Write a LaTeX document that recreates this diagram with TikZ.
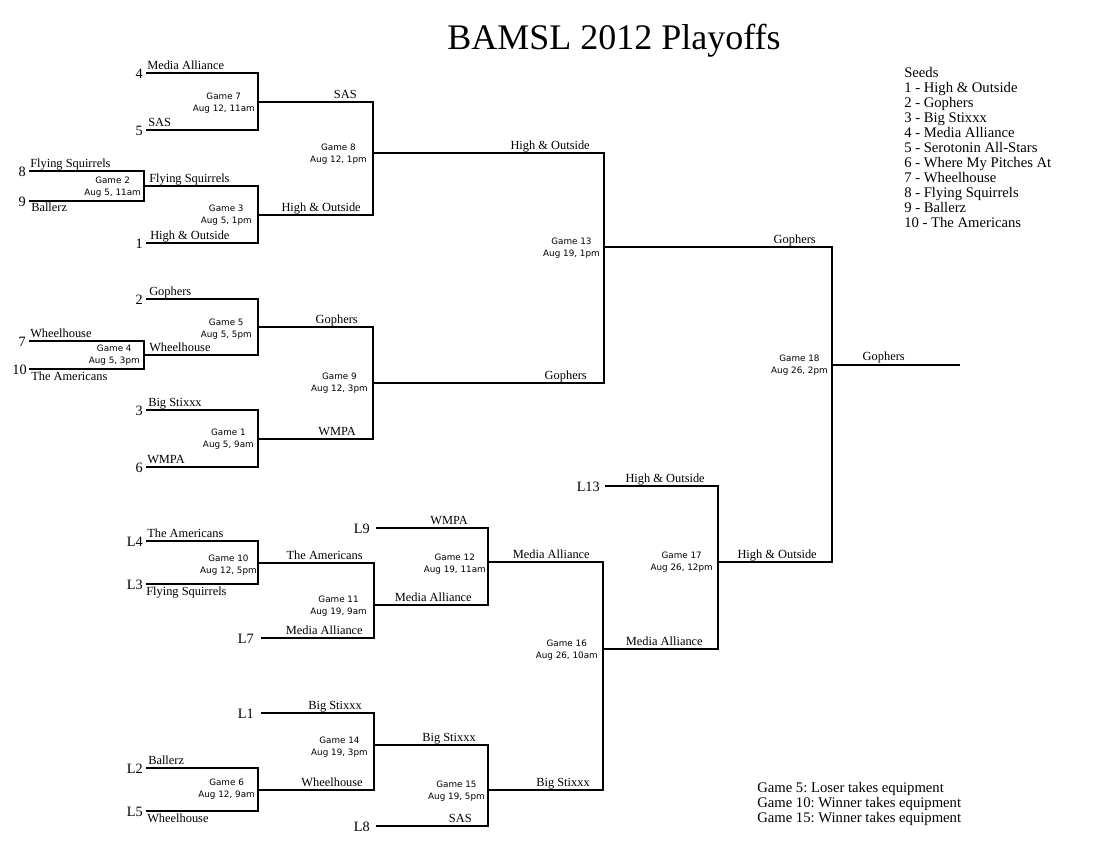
\documentclass[tikz,border=0pt]{standalone}
\usepackage{fontspec}
\setmainfont{Liberation Serif}
\newfontfamily\gamefont{DejaVu Sans}
\frenchspacing
\begin{document}
\begin{tikzpicture}[x=0.75pt,y=-0.75pt]
\tikzset{
  br/.style={line width=1.6pt, line join=miter},
  team/.style={font=\fontsize{9.3}{11}\selectfont, inner sep=0pt},
  tl/.style={team, anchor=base west},
  tr/.style={team, anchor=base east},
  seednum/.style={font=\fontsize{10.7}{12}\selectfont, inner sep=0pt, anchor=east},
  gamelbl/.style={font=\gamefont\fontsize{6.6}{9}\selectfont, align=center, inner sep=0pt, anchor=east},
  legend/.style={font=\fontsize{11}{13}\selectfont, inner sep=0pt, anchor=base west},
}
\useasboundingbox (0,0) rectangle (1100,850);

% title
\node[font=\fontsize{27}{31}\selectfont, inner sep=0pt, anchor=base] (title) at (614,49) {BAMSL 2012 Playoffs};

% entry points
\coordinate (s4) at (146,73);   \node[seednum] (n4) at (143,73.5) {4};
\coordinate (s5) at (146,130);  \node[seednum] (n5) at (143,130.5) {5};
\coordinate (s8) at (29,171);   \node[seednum] (n8) at (26,171.5) {8};
\coordinate (s9) at (29,201);   \node[seednum] (n9) at (26,201.5) {9};
\coordinate (s1) at (146,243);  \node[seednum] (n1) at (143,243.5) {1};
\coordinate (s2) at (146,299);  \node[seednum] (n2) at (143,299.5) {2};
\coordinate (s7) at (29,341);   \node[seednum] (n7) at (26,341.5) {7};
\coordinate (s10) at (29,369);  \node[seednum] (n10) at (27,369.5) {10};
\coordinate (s3) at (146,410);  \node[seednum] (n3) at (143,410.5) {3};
\coordinate (s6) at (146,467);  \node[seednum] (n6) at (143,467.5) {6};
\coordinate (l4) at (146,541);  \node[seednum] (nl4) at (143,541.5) {L4};
\coordinate (l3) at (146,584);  \node[seednum] (nl3) at (143,584.5) {L3};
\coordinate (l7) at (261,638);  \node[seednum] (nl7) at (254,638.5) {L7};
\coordinate (l9) at (376,528);  \node[seednum] (nl9) at (370,528.5) {L9};
\coordinate (l2) at (146,768);  \node[seednum] (nl2) at (143,768.5) {L2};
\coordinate (l5) at (146,811);  \node[seednum] (nl5) at (143,811.5) {L5};
\coordinate (l1) at (261,713);  \node[seednum] (nl1) at (254,713.5) {L1};
\coordinate (l8) at (376,826);  \node[seednum] (nl8) at (370,826.5) {L8};
\coordinate (l13) at (605,486); \node[seednum] (nl13) at (600,486.5) {L13};

% game output points (vertical x, winner line y)
\coordinate (g7) at (258,102);
\coordinate (g2) at (144,186);
\coordinate (g3) at (258,215);
\coordinate (g8) at (373,153);
\coordinate (g4) at (144,355);
\coordinate (g5) at (258,327);
\coordinate (g1) at (258,439);
\coordinate (g9) at (373,383);
\coordinate (g13) at (604,247);
\coordinate (g10) at (258,563);
\coordinate (g11) at (374,605);
\coordinate (g12) at (488,562);
\coordinate (g6) at (258,790);
\coordinate (g14) at (374,745);
\coordinate (g15) at (488,790);
\coordinate (g16) at (603,649);
\coordinate (g17) at (718,562);
\coordinate (g18) at (832,365);
\coordinate (champ) at (960,365);

% bracket lines
\draw[br] (s4) -- (s4 -| g7) -- (s5 -| g7) -- (s5);
\draw[br] (s8) -- (s8 -| g2) -- (s9 -| g2) -- (s9);
\draw[br] (g2) -- (g2 -| g3) -- (s1 -| g3) -- (s1);
\draw[br] (g7) -- (g7 -| g8) -- (g3 -| g8) -- (g3);
\draw[br] (s7) -- (s7 -| g4) -- (s10 -| g4) -- (s10);
\draw[br] (s2) -- (s2 -| g5) -- (g4 -| g5) -- (g4);
\draw[br] (s3) -- (s3 -| g1) -- (s6 -| g1) -- (s6);
\draw[br] (g5) -- (g5 -| g9) -- (g1 -| g9) -- (g1);
\draw[br] (g8) -- (g8 -| g13) -- (g9 -| g13) -- (g9);
\draw[br] (l4) -- (l4 -| g10) -- (l3 -| g10) -- (l3);
\draw[br] (g10) -- (g10 -| g11) -- (l7 -| g11) -- (l7);
\draw[br] (l9) -- (l9 -| g12) -- (g11 -| g12) -- (g11);
\draw[br] (l2) -- (l2 -| g6) -- (l5 -| g6) -- (l5);
\draw[br] (l1) -- (l1 -| g14) -- (g6 -| g14) -- (g6);
\draw[br] (g14) -- (g14 -| g15) -- (l8 -| g15) -- (l8);
\draw[br] (g12) -- (g12 -| g16) -- (g15 -| g16) -- (g15);
\draw[br] (l13) -- (l13 -| g17) -- (g16 -| g17) -- (g16);
\draw[br] (g13) -- (g13 -| g18) -- (g17 -| g18) -- (g17);
\draw[br] (g18) -- (champ);

% game labels
\node[gamelbl] (lg7)  at (255,103)   {Game 7\\Aug 12, 11am};
\node[gamelbl] (lg2)  at (141,187)   {Game 2\\Aug 5, 11am};
\node[gamelbl] (lg3)  at (252,215)   {Game 3\\Aug 5, 1pm};
\node[gamelbl] (lg8)  at (367,154)   {Game 8\\Aug 12, 1pm};
\node[gamelbl] (lg5)  at (252,329)   {Game 5\\Aug 5, 5pm};
\node[gamelbl] (lg4)  at (140,355)   {Game 4\\Aug 5, 3pm};
\node[gamelbl] (lg1)  at (254,439)   {Game 1\\Aug 5, 9am};
\node[gamelbl] (lg9)  at (368,383)   {Game 9\\Aug 12, 3pm};
\node[gamelbl] (lg13) at (600,248)   {Game 13\\Aug 19, 1pm};
\node[gamelbl] (lg18) at (828,365)   {Game 18\\Aug 26, 2pm};
\node[gamelbl] (lg10) at (257,565)   {Game 10\\Aug 12, 5pm};
\node[gamelbl] (lg11) at (367,606)   {Game 11\\Aug 19, 9am};
\node[gamelbl] (lg12) at (486,564)   {Game 12\\Aug 19, 11am};
\node[gamelbl] (lg14) at (368,747)   {Game 14\\Aug 19, 3pm};
\node[gamelbl] (lg6)  at (255,789)   {Game 6\\Aug 12, 9am};
\node[gamelbl] (lg15) at (485,791)   {Game 15\\Aug 19, 5pm};
\node[gamelbl] (lg17) at (713,562)   {Game 17\\Aug 26, 12pm};
\node[gamelbl] (lg16) at (598,650)   {Game 16\\Aug 26, 10am};

% team labels (left aligned above line)
\node[tl] (t1) at (147,69)  {Media Alliance};
\node[tl] (t2) at (148,126) {SAS};
\node[tl] (t3) at (30,167)  {Flying Squirrels};
\node[tl] (t4) at (149,182) {Flying Squirrels};
\node[tl] (t5) at (150,239) {High \& Outside};
\node[tl] (t6) at (149,295) {Gophers};
\node[tl] (t7) at (30,337)  {Wheelhouse};
\node[tl] (t8) at (149,351) {Wheelhouse};
\node[tl] (t9) at (148,406) {Big Stixxx};
\node[tl] (t10) at (147,463) {WMPA};
\node[tl] (t11) at (147,537) {The Americans};
\node[tl] (t12) at (148,764) {Ballerz};
% left aligned below line
\node[tl] (t13) at (31,211)  {Ballerz};
\node[tl] (t14) at (31,380)  {The Americans};
\node[tl] (t15) at (146,595) {Flying Squirrels};
\node[tl] (t16) at (147,822) {Wheelhouse};
% right aligned above line
\node[tr] (t17) at (357,98)  {SAS};
\node[tr] (t18) at (361,211) {High \& Outside};
\node[tr] (t19) at (590,149) {High \& Outside};
\node[tr] (t20) at (358,323) {Gophers};
\node[tr] (t21) at (356,435) {WMPA};
\node[tr] (t22) at (587,379) {Gophers};
\node[tr] (t23) at (816,243) {Gophers};
\node[tr] (t24) at (905,360) {Gophers};
\node[tr] (t25) at (363,559) {The Americans};
\node[tr] (t26) at (363,634) {Media Alliance};
\node[tr] (t27) at (472,601) {Media Alliance};
\node[tr] (t28) at (468,524) {WMPA};
\node[tr] (t29) at (590,558) {Media Alliance};
\node[tr] (t30) at (362,709) {Big Stixxx};
\node[tr] (t31) at (363,786) {Wheelhouse};
\node[tr] (t32) at (476,741) {Big Stixxx};
\node[tr] (t33) at (472,822) {SAS};
\node[tr] (t34) at (590,786) {Big Stixxx};
\node[tr] (t35) at (705,482) {High \& Outside};
\node[tr] (t36) at (703,645) {Media Alliance};
\node[tr] (t37) at (817,558) {High \& Outside};

% seeds legend
\node[legend] (sd0)  at (904,77)  {Seeds};
\node[legend] (sd1)  at (904,92)  {1 - High \& Outside};
\node[legend] (sd2)  at (904,107) {2 - Gophers};
\node[legend] (sd3)  at (904,122) {3 - Big Stixxx};
\node[legend] (sd4)  at (904,137) {4 - Media Alliance};
\node[legend] (sd5)  at (904,152) {5 - Serotonin All-Stars};
\node[legend] (sd6)  at (904,167) {6 - Where My Pitches At};
\node[legend] (sd7)  at (904,182) {7 - Wheelhouse};
\node[legend] (sd8)  at (904,197) {8 - Flying Squirrels};
\node[legend] (sd9)  at (904,212) {9 - Ballerz};
\node[legend] (sd10) at (904,227) {10 - The Americans};

% notes
\node[legend] (nt1) at (757,792) {Game 5: Loser takes equipment};
\node[legend] (nt2) at (757,807) {Game 10: Winner takes equipment};
\node[legend] (nt3) at (757,822) {Game 15: Winner takes equipment};
\end{tikzpicture}
\end{document}
